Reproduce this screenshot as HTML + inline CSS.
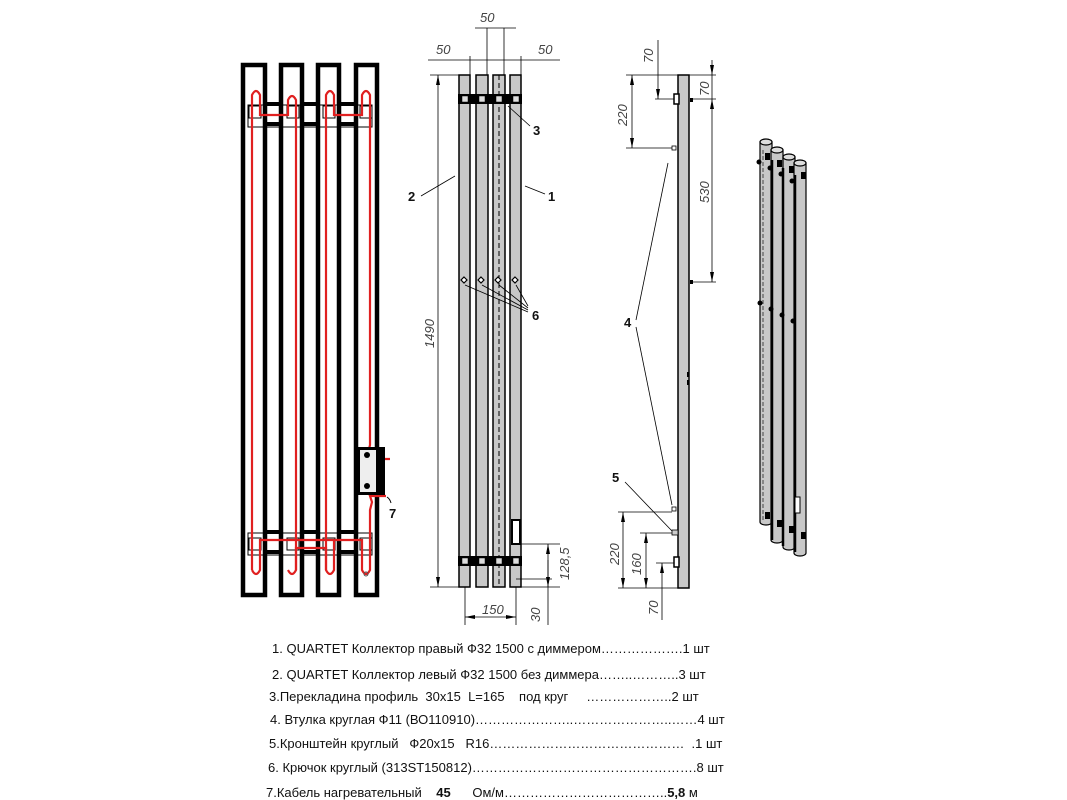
<!DOCTYPE html>
<html><head><meta charset="utf-8"><style>
html,body{margin:0;padding:0;background:#fff;}
svg{display:block}
.it{font-family:"Liberation Sans",sans-serif;font-style:italic;font-size:13px;fill:#444}
.lb{font-family:"Liberation Sans",sans-serif;font-weight:bold;font-size:13px;fill:#111}
.tx{font-family:"Liberation Sans","Noto Sans CJK SC",sans-serif;font-size:13px;fill:#111;white-space:pre}
</style></head><body>
<svg width="1067" height="800" viewBox="0 0 1067 800" xmlns="http://www.w3.org/2000/svg" xml:space="preserve">
<!-- LEFT: cable routing view -->
<g fill="none" stroke="#000" stroke-width="4.5">
<rect x="243" y="65" width="22" height="530"/>
<rect x="281" y="65" width="21" height="530"/>
<rect x="318" y="65" width="21" height="530"/>
<rect x="356" y="65" width="21" height="530"/>
</g>
<g fill="#000">
<rect x="265" y="102" width="16" height="4"/><rect x="302" y="102" width="16" height="4"/><rect x="339" y="102" width="17" height="4"/>
<rect x="265" y="122" width="16" height="4"/><rect x="302" y="122" width="16" height="4"/><rect x="339" y="122" width="17" height="4"/>
<rect x="265" y="530" width="16" height="4"/><rect x="302" y="530" width="16" height="4"/><rect x="339" y="530" width="17" height="4"/>
<rect x="265" y="550" width="16" height="4"/><rect x="302" y="550" width="16" height="4"/><rect x="339" y="550" width="17" height="4"/>
</g>
<g fill="none" stroke="#000" stroke-width="1">
<rect x="248" y="105" width="124" height="22"/>
<rect x="249" y="106" width="12" height="12"/><rect x="287" y="106" width="12" height="12"/><rect x="323" y="106" width="12" height="12"/><rect x="360" y="106" width="12" height="12"/>
<rect x="248" y="533" width="124" height="22"/>
<rect x="249" y="538" width="12" height="12"/><rect x="287" y="538" width="12" height="12"/><rect x="323" y="538" width="12" height="12"/><rect x="360" y="538" width="12" height="12"/>
</g>
<g fill="none" stroke="#e02020" stroke-width="2.2">
<path d="M252 570 V95 q4-8 8 0 V115 H288 V100 q4-8 8 0 V570"/>
<path d="M326 570 V95 q4-8 8 0 V115 H362 V95 q4-8 8 0 V445 l-2 8 2 6 H390"/>
<path d="M252 570 q4 8 8 0 V540 H362 V570 q4 8 8 0 V510 l2-8 -2-6 H386"/>
<path d="M288 570 q4 8 8 0 V548 H326 V570 q4 8 8 0 V540"/>
</g>
<rect x="355" y="447" width="30" height="48" fill="#000"/>
<rect x="360" y="450" width="16" height="42" fill="#eee"/>
<circle cx="367" cy="455" r="3" fill="#000"/><circle cx="367" cy="486" r="3" fill="#000"/>
<path d="M387 497 q3 2 4 6" stroke="#000" fill="none"/>
<text x="389" y="518" class="lb" font-size="14">7</text>
<circle cx="366" cy="574" r="2" fill="none" stroke="#555"/>

<!-- MIDDLE: front view -->
<g fill="#c8c8c8" stroke="#000" stroke-width="1.5">
<rect x="459" y="75" width="11" height="512"/>
<rect x="476" y="75" width="12" height="512"/>
<rect x="493" y="75" width="12" height="512"/>
<rect x="510" y="75" width="11" height="512"/>
</g>
<line x1="499" y1="75" x2="499" y2="587" stroke="#000" stroke-dasharray="5,3"/>
<g fill="#000">
<rect x="458" y="94" width="64" height="10"/>
<rect x="458" y="556" width="64" height="10"/>
</g>
<g fill="#ddd" stroke="#000" stroke-width="0.5">
<rect x="462" y="96" width="6" height="6"/><rect x="479" y="96" width="6" height="6"/><rect x="496" y="96" width="6" height="6"/><rect x="513" y="96" width="6" height="6"/>
<rect x="462" y="558" width="6" height="6"/><rect x="479" y="558" width="6" height="6"/><rect x="496" y="558" width="6" height="6"/><rect x="513" y="558" width="6" height="6"/>
</g>
<rect x="512" y="520" width="8" height="24" fill="#fff" stroke="#000" stroke-width="2"/>
<g fill="#fff" stroke="#000" stroke-width="1.2">
<path d="M464 277 l3 3 -3 3 -3-3z"/><path d="M481 277 l3 3 -3 3 -3-3z"/><path d="M498 277 l3 3 -3 3 -3-3z"/><path d="M515 277 l3 3 -3 3 -3-3z"/>
</g>
<g stroke="#000" stroke-width="0.8" fill="none">
<line x1="465" y1="285" x2="528" y2="312"/><line x1="482" y1="285" x2="528" y2="310"/><line x1="499" y1="285" x2="528" y2="308"/><line x1="516" y1="285" x2="528" y2="306"/>
<line x1="421" y1="196" x2="455" y2="176"/><line x1="525" y1="186" x2="545" y2="194"/>
<line x1="508" y1="106" x2="530" y2="126"/>
<line x1="430" y1="75" x2="459" y2="75"/><line x1="430" y1="587" x2="459" y2="587"/>
<line x1="438" y1="75" x2="438" y2="587"/>
<line x1="428" y1="60" x2="560" y2="60"/>
<line x1="470" y1="56" x2="470" y2="75"/><line x1="487" y1="28" x2="487" y2="75"/><line x1="504" y1="28" x2="504" y2="75"/><line x1="521" y1="56" x2="521" y2="75"/>
<line x1="475" y1="28" x2="516" y2="28"/>
<line x1="465" y1="587" x2="465" y2="625"/><line x1="516" y1="587" x2="516" y2="625"/>
<line x1="465" y1="617" x2="516" y2="617"/>
<line x1="521" y1="544" x2="560" y2="544"/><line x1="521" y1="587" x2="560" y2="587"/>
<line x1="516" y1="579" x2="552" y2="579"/>
<line x1="548" y1="544" x2="548" y2="587"/>
<line x1="548" y1="560" x2="548" y2="625"/>
</g>
<g fill="#000">
<path d="M438 75 l-2 10 4 0z"/><path d="M438 587 l-2-10 4 0z"/>
<path d="M465 617 l10-2 0 4z"/><path d="M516 617 l-10-2 0 4z"/>
<path d="M548 544 l-2 10 4 0z"/><path d="M548 587 l-2-10 4 0z"/>
</g>
<text class="it" x="436" y="54">50</text>
<text class="it" x="480" y="22">50</text>
<text class="it" x="538" y="54">50</text>
<text class="it" x="482" y="614">150</text>
<text class="it" transform="translate(434,348) rotate(-90)" font-size="14">1490</text>
<text class="it" transform="translate(569,580) rotate(-90)">128,5</text>
<text class="it" transform="translate(540,622) rotate(-90)">30</text>
<text class="lb" x="408" y="201">2</text>
<text class="lb" x="548" y="201">1</text>
<text class="lb" x="533" y="135">3</text>
<text class="lb" x="532" y="320">6</text>

<!-- SIDE view -->
<rect x="678" y="75" width="11" height="513" fill="#c8c8c8" stroke="#000" stroke-width="1.5"/>
<rect x="674" y="94" width="5" height="10" fill="#fff" stroke="#000" stroke-width="1.5"/>
<rect x="674" y="557" width="5" height="10" fill="#fff" stroke="#000" stroke-width="1.5"/>
<rect x="690" y="98" width="3" height="4" fill="#000"/><rect x="690" y="280" width="3" height="4" fill="#000"/>
<rect x="687" y="372" width="2" height="5" fill="#000"/><rect x="687" y="380" width="2" height="5" fill="#000"/>
<rect x="672" y="146" width="4" height="4" fill="#fff" stroke="#000" stroke-width="0.8"/>
<rect x="672" y="507" width="4" height="4" fill="#fff" stroke="#000" stroke-width="0.8"/>
<rect x="672" y="530" width="6" height="5" fill="#ccc" stroke="#000" stroke-width="0.8"/>
<g stroke="#000" stroke-width="0.8" fill="none">
<line x1="626" y1="75" x2="716" y2="75"/><line x1="655" y1="99" x2="674" y2="99"/>
<line x1="626" y1="148" x2="672" y2="148"/>
<line x1="632" y1="75" x2="632" y2="148"/>
<line x1="658" y1="40" x2="658" y2="99"/>
<line x1="712" y1="60" x2="712" y2="282"/><line x1="690" y1="99" x2="716" y2="99"/><line x1="690" y1="282" x2="716" y2="282"/>
<line x1="668" y1="163" x2="636" y2="320"/><line x1="636" y1="327" x2="672" y2="505"/>
<line x1="625" y1="482" x2="672" y2="531"/>
<line x1="618" y1="512" x2="672" y2="512"/><line x1="640" y1="533" x2="672" y2="533"/>
<line x1="618" y1="588" x2="678" y2="588"/><line x1="656" y1="563" x2="674" y2="563"/>
<line x1="623" y1="512" x2="623" y2="588"/><line x1="646" y1="533" x2="646" y2="588"/>
<line x1="662" y1="563" x2="662" y2="620"/>
</g>
<g fill="#000">
<path d="M632 75 l-2 10 4 0z"/><path d="M632 148 l-2-10 4 0z"/>
<path d="M658 99 l-2-10 4 0z"/>
<path d="M712 75 l-2-10 4 0z"/><path d="M712 99 l-2 10 4 0z"/><path d="M712 282 l-2-10 4 0z"/>
<path d="M623 512 l-2 10 4 0z"/><path d="M623 588 l-2-10 4 0z"/>
<path d="M646 533 l-2 10 4 0z"/><path d="M646 588 l-2-10 4 0z"/>
<path d="M662 563 l-2 10 4 0z"/>
</g>
<text class="it" transform="translate(653,63) rotate(-90)">70</text>
<text class="it" transform="translate(709,96) rotate(-90)">70</text>
<text class="it" transform="translate(627,126) rotate(-90)">220</text>
<text class="it" transform="translate(709,203) rotate(-90)">530</text>
<text class="it" transform="translate(619,565) rotate(-90)">220</text>
<text class="it" transform="translate(641,575) rotate(-90)">160</text>
<text class="it" transform="translate(658,615) rotate(-90)">70</text>
<text class="lb" x="624" y="327">4</text>
<text class="lb" x="612" y="482">5</text>

<!-- 3D view -->
<g stroke="#000" stroke-width="1.2" fill="#c8c8c8">
<path d="M760 142 V522 a6 3 0 0 0 12 0 V142z"/>
<ellipse cx="766" cy="142" rx="6" ry="3" fill="#ddd"/>
<path d="M771 150 V540 a6 3 0 0 0 12 0 V150z"/>
<ellipse cx="777" cy="150" rx="6" ry="3" fill="#ddd"/>
<path d="M783 157 V547 a6 3 0 0 0 12 0 V157z"/>
<ellipse cx="789" cy="157" rx="6" ry="3" fill="#ddd"/>
<path d="M794 163 V553 a6 3 0 0 0 12 0 V163z"/>
<ellipse cx="800" cy="163" rx="6" ry="3" fill="#ddd"/>
</g>
<g stroke="#000" stroke-width="2.5">
<line x1="772" y1="160" x2="772" y2="540"/><line x1="783" y1="168" x2="783" y2="546"/><line x1="795" y1="175" x2="795" y2="552"/>
</g>
<line x1="763" y1="150" x2="763" y2="520" stroke="#444" stroke-dasharray="4,2"/>
<g fill="#000">
<rect x="765" y="153" width="5" height="7"/><rect x="777" y="160" width="5" height="7"/><rect x="789" y="166" width="5" height="7"/><rect x="801" y="172" width="5" height="7"/>
<rect x="765" y="512" width="5" height="7"/><rect x="777" y="520" width="5" height="7"/><rect x="789" y="526" width="5" height="7"/><rect x="801" y="532" width="5" height="7"/>
<circle cx="760" cy="303" r="2.5"/><circle cx="771" cy="309" r="2.5"/><circle cx="782" cy="315" r="2.5"/><circle cx="793" cy="321" r="2.5"/>
<circle cx="759" cy="162" r="2.5"/><circle cx="770" cy="168" r="2.5"/><circle cx="781" cy="174" r="2.5"/><circle cx="792" cy="181" r="2.5"/>
</g>
<rect x="795" y="497" width="5" height="16" fill="#fff" stroke="#000"/>

<!-- Parts list -->
<text class="tx" x="272" y="653">1. QUARTET Коллектор правый Ф32 1500 с диммером……………….1 шт</text>
<text class="tx" x="272" y="679">2. QUARTET Коллектор левый Ф32 1500 без диммера……..………..3 шт</text>
<text class="tx" x="269" y="701">3.Перекладина профиль  30х15  L=165    под круг     ………………..2 шт</text>
<text class="tx" x="270" y="724">4. Втулка круглая Ф11 (ВО110910)…………………..…………………..……4 шт</text>
<text class="tx" x="269" y="748">5.Кронштейн круглый   Ф20х15   R16………………………………………  .1 шт</text>
<text class="tx" x="268" y="772">6. Крючок круглый (313ST150812)…………………………………………….8 шт</text>
<text class="tx" x="266" y="797">7.Кабель нагревательный    <tspan font-weight="bold">45</tspan>      Ом/м………………………………..<tspan font-weight="bold">5,8</tspan> м</text>
</svg>
</body></html>
